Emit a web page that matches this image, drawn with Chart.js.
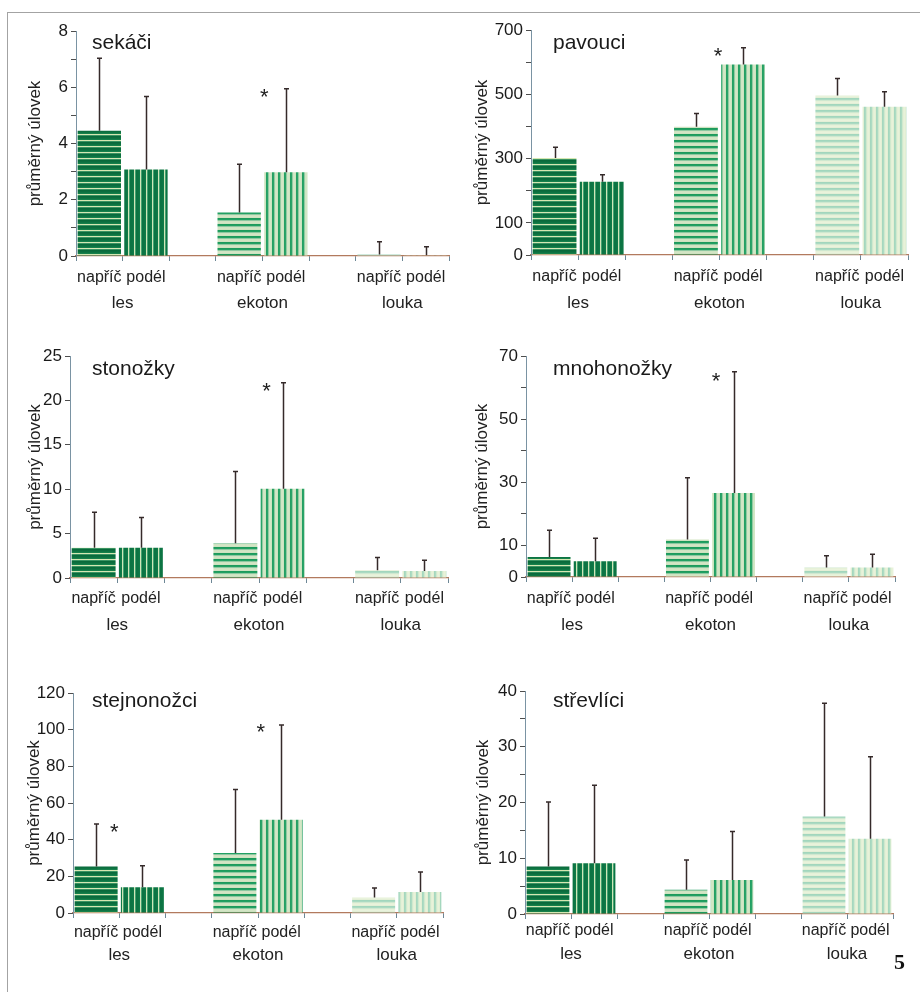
<!DOCTYPE html>
<html><head><meta charset="utf-8">
<script src="https://cdn.jsdelivr.net/npm/chart.js@4.4.0/dist/chart.umd.min.js"></script>
<style>
html,body{margin:0;padding:0;background:#fff;}
#wrap{position:relative;width:920px;height:992px;overflow:hidden;background:#fff;}
#frame{position:absolute;left:7px;top:12px;width:940px;height:1000px;border-top:1px solid #a3a3a3;border-left:1px solid #a3a3a3;}
canvas{position:absolute;}
#pg{position:absolute;left:894px;top:951px;font:bold 22px 'Liberation Serif',serif;line-height:22px;color:#111;}
</style></head><body>
<div id="wrap"><div id="frame"></div>
<canvas id="c1"></canvas><canvas id="c2"></canvas><canvas id="c3"></canvas>
<canvas id="c4"></canvas><canvas id="c5"></canvas><canvas id="c6"></canvas>
<div id="pg">5</div></div>
<script>
// ---------------- DATA ----------------
const categories = ["napříč","podél","","napříč","podél","","napříč","podél"];
const habitats = ["les","ekoton","louka"];
const yTitle = "průměrný úlovek";

const sekaciMean = [4.45, 3.08, 1.55, 2.98, 0.05, 0.03];
const sekaciErr  = [7.03, 5.67, 3.26, 5.95, 0.51, 0.33];
const sekaciTicks = [0, 2, 4, 6, 8];
const sekaciStars = [[3.54, 5.8]];

const pavouciMean = [302, 228, 399, 593, 496, 461];
const pavouciErr  = [335, 250, 440, 645, 549, 508];
const pavouciTicks = [0, 100, 300, 500, 700];
const pavouciStars = [[3.47, 632]];

const stonozkyMean = [3.4, 3.4, 3.9, 10.05, 0.86, 0.8];
const stonozkyErr  = [7.4, 6.8, 12.0, 22.0, 2.3, 2.0];
const stonozkyTicks = [0, 5, 10, 15, 20, 25];
const stonozkyStars = [[3.66, 21.5]];

const mnohonozkyMean = [6.3, 5.0, 11.9, 26.6, 3.0, 3.0];
const mnohonozkyErr  = [14.8, 12.3, 31.4, 65.0, 6.7, 7.2];
const mnohonozkyTicks = [0, 10, 30, 50, 70];
const mnohonozkyStars = [[3.62, 63.4]];

const stejnonozciMean = [25.4, 14.0, 32.7, 50.9, 8.5, 11.4];
const stejnonozciErr  = [48.5, 25.8, 67.3, 102.5, 13.6, 22.4];
const stejnonozciTicks = [0, 20, 40, 60, 80, 100, 120];
const stejnonozciStars = [[0.39, 46.4], [3.56, 101]];

const strevliciMean = [8.5, 9.1, 4.35, 6.1, 17.5, 13.5];
const strevliciErr  = [20.1, 23.1, 9.7, 14.8, 37.8, 28.2];
const strevliciTicks = [0, 10, 20, 30, 40];
const strevliciStars = [];

// ---------------- PANELS (data refs + layout) ----------------
const panels = [
  {id:'c1', title:'sekáči', mean:sekaciMean, err:sekaciErr, ticks:sekaciTicks, stars:sekaciStars, max:8, step:1,
   cv:[8,14,452,305], ca:[76,449,31,256], yTitleX:35, tTxt:[92,49], xPad:7, gBase:52},
  {id:'c2', title:'pavouci', mean:pavouciMean, err:pavouciErr, ticks:pavouciTicks, stars:pavouciStars, max:700, step:100,
   cv:[462,14,458,305], ca:[531,908,30,255], yTitleX:482, tTxt:[553,49], xPad:7, gBase:53},
  {id:'c3', title:'stonožky', mean:stonozkyMean, err:stonozkyErr, ticks:stonozkyTicks, stars:stonozkyStars, max:25, step:5,
   cv:[8,325,452,318], ca:[70,448,356,578], yTitleX:35, tTxt:[92,375], xPad:6, gBase:52},
  {id:'c4', title:'mnohonožky', mean:mnohonozkyMean, err:mnohonozkyErr, ticks:mnohonozkyTicks, stars:mnohonozkyStars, max:70, step:10,
   cv:[462,325,458,318], ca:[526,895,356,577], yTitleX:482, tTxt:[553,375], xPad:7, gBase:53},
  {id:'c5', title:'stejnonožci', mean:stejnonozciMean, err:stejnonozciErr, ticks:stejnonozciTicks, stars:stejnonozciStars, max:120, step:20,
   cv:[8,660,452,330], ca:[73,443,693,913], yTitleX:34, tTxt:[92,707], xPad:5, gBase:47},
  {id:'c6', title:'střevlíci', mean:strevliciMean, err:strevliciErr, ticks:strevliciTicks, stars:strevliciStars, max:40, step:5,
   cv:[462,660,458,330], ca:[525,893,691,914], yTitleX:483, tTxt:[553,707], xPad:2, gBase:45}
];

const slotOf = [0, 1, 3, 4, 6, 7];
function toSlots(arr){ const out = new Array(categories.length).fill(null); slotOf.forEach((s,i)=>{ out[s] = arr[i]; }); return out; }

const FONT = "'Liberation Sans', Arial, sans-serif";
const FS = 17;
const FSX = 16;
Chart.defaults.font.family = FONT;

// ---------------- PATTERNS ----------------
function stripe(vertical, cols){
  const n = cols.length;
  const c = document.createElement('canvas');
  c.width = vertical ? n : 1; c.height = vertical ? 1 : n;
  const g = c.getContext('2d');
  cols.forEach((col,i)=>{ g.fillStyle = col; if (vertical) g.fillRect(i,0,1,1); else g.fillRect(0,i,1,1); });
  return c;
}
const patternDefs = [
  [false, ['#d5e7b2','#3a9463','#0a6a3b','#0b6e3e','#0e7442','#16804b']],   // les napříč
  [true,  ['#d0e6b8','#45a272','#0c7443','#0c7443','#0d7645','#107a47']],   // les podél
  [false, ['#1d9a5c','#22a062','#8cc8a0','#cfe3c2','#d3e5c4','#cde2c0']],   // ekoton napříč
  [true,  ['#24a063','#2aa468','#92cba2','#d0e5c4','#d3e7c6','#cce3c0']],   // ekoton podél
  [false, ['#a2d6bd','#abdac2','#cfe8d0','#e6f1d8','#e9f3dc','#e3efd6']],   // louka napříč
  [true,  ['#a5d7be','#addbc3','#d0e9ce','#e4f0d6','#e8f2da','#e2efd4']]    // louka podél
];

panels.forEach(p => {
  const canvas = document.getElementById(p.id);
  const [cl, ct, cw, ch] = p.cv;
  const [al, ar, at, ab] = p.ca;
  canvas.width = cw; canvas.height = ch;
  canvas.style.left = cl + 'px'; canvas.style.top = ct + 'px';
  canvas.style.width = cw + 'px'; canvas.style.height = ch + 'px';
  const ctx = canvas.getContext('2d');
  const pats = patternDefs.map(([v, cols]) => ctx.createPattern(stripe(v, cols), 'repeat'));
  const bg = toSlots(pats);
  const errSlots = toSlots(p.err);

  const annot = {
    id: 'annot',
    afterDatasetsDraw(chart){
      const c = chart.ctx, xs = chart.scales.x, ys = chart.scales.y, area = chart.chartArea;
      const meta = chart.getDatasetMeta(0);
      c.save();
      c.strokeStyle = '#352a2a'; c.lineWidth = 1.5;
      errSlots.forEach((e, i) => {
        if (e == null) return;
        const bar = meta.data[i];
        const px = Math.round(bar.x) + 0.5;
        const yt = ys.getPixelForValue(e);
        c.beginPath();
        c.moveTo(px, bar.y); c.lineTo(px, yt);
        c.moveTo(px - 2.5, yt); c.lineTo(px + 2.5, yt);
        c.stroke();
      });
      c.fillStyle = '#1e1e1e'; c.font = '22px ' + FONT; c.textAlign = 'center'; c.textBaseline = 'alphabetic';
      const m = c.measureText('*');
      p.stars.forEach(([ix, v]) => {
        const sx = xs.getPixelForValue(ix), sy = ys.getPixelForValue(v);
        c.fillText('*', sx, sy + (m.actualBoundingBoxAscent - m.actualBoundingBoxDescent) / 2);
      });
      c.font = '21px ' + FONT; c.textAlign = 'left'; c.fillStyle = '#1a1a1a';
      c.fillText(p.title, p.tTxt[0] - cl, p.tTxt[1] - ct);
      c.font = FS + 'px ' + FONT; c.textAlign = 'center'; c.fillStyle = '#222';
      habitats.forEach((h, k) => { c.fillText(h, xs.getPixelForValue(3 * k + 0.5), area.bottom + p.gBase); });
      c.restore();
    }
  };

  new Chart(canvas, {
    type: 'bar',
    data: { labels: categories, datasets: [{ data: toSlots(p.mean), backgroundColor: bg, borderWidth: 0, barPercentage: 0.93, categoryPercentage: 1 }] },
    options: {
      responsive: false, animation: false, devicePixelRatio: 1,
      layout: { padding: { top: at - ct, right: cl + cw - ar, left: 0, bottom: 0 } },
      plugins: { legend: { display: false }, tooltip: { enabled: false } },
      scales: {
        x: {
          grid: { offset: true, drawOnChartArea: false, drawTicks: true, tickLength: 5, color: '#6d8796' },
          border: { color: '#b27a5e', width: 1.2 },
          ticks: { autoSkip: false, maxRotation: 0, minRotation: 0, padding: p.xPad, color: '#222', font: { size: FSX } },
          afterFit: s => { s.height = ct + ch - ab; }
        },
        y: {
          min: 0, max: p.max,
          grid: { drawOnChartArea: false, tickLength: 5, color: '#4e4e4e' },
          border: { color: '#7a93a3' },
          ticks: { stepSize: p.step, padding: 3, color: '#1a1a1a', font: { size: FS },
                   callback: v => p.ticks.includes(v) ? String(v) : '' },
          title: { display: true, text: yTitle, color: '#222', font: { size: FS }, padding: { top: p.yTitleX - cl - FS * 0.6, bottom: 0 } },
          afterFit: s => { s.width = al - cl; }
        }
      }
    },
    plugins: [annot]
  });
});
</script>
</body></html>
